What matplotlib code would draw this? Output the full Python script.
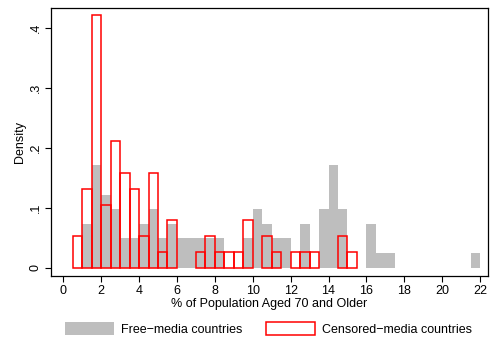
import numpy as np
import matplotlib
matplotlib.use("Agg")
import matplotlib.pyplot as plt
from matplotlib.patches import Patch

plt.rcParams['font.family'] = ['Liberation Sans', 'DejaVu Sans']

bin_width = 0.5

# free-media countries: left bin edge -> density
free_left = [1.0, 1.5, 2.0, 2.5, 3.0, 3.5, 4.0, 4.5, 5.0, 5.5, 6.0, 6.5, 7.0, 7.5,
             8.0, 9.5, 10.0, 10.5, 11.0, 11.5, 12.5, 13.5, 14.0, 14.5, 16.0,
             16.5, 17.0, 21.5]
free_density = [0.073, 0.171, 0.122, 0.098, 0.049, 0.049, 0.073, 0.098, 0.049,
                0.073, 0.049, 0.049, 0.049, 0.049, 0.049, 0.049, 0.098, 0.073,
                0.049, 0.049, 0.073, 0.098, 0.171, 0.098, 0.073, 0.024, 0.024,
                0.024]

# censored-media countries
cens_left = [0.5, 1.0, 1.5, 2.0, 2.5, 3.0, 3.5, 4.0, 4.5, 5.0, 5.5, 7.0, 7.5,
             8.0, 8.5, 9.0, 9.5, 10.5, 11.0, 12.0, 12.5, 13.0, 14.5, 15.0]
cens_density = [0.053, 0.132, 0.421, 0.105, 0.211, 0.158, 0.132, 0.053, 0.158,
                0.026, 0.079, 0.026, 0.053, 0.026, 0.026, 0.026, 0.079, 0.053,
                0.026, 0.026, 0.026, 0.026, 0.053, 0.026]

x_ticks = list(range(0, 23, 2))
y_ticks = [0, 0.1, 0.2, 0.3, 0.4]
y_labels = ['0', '.1', '.2', '.3', '.4']

gray = '#bebebe'
fs = 9

fig = plt.figure(figsize=(4.9, 3.41), dpi=100)
ax = fig.add_axes([0.104, 0.191, 0.892, 0.786])

ax.bar(free_left, free_density, width=bin_width, align='edge',
       color=gray, linewidth=0)
ax.bar(cens_left, cens_density, width=bin_width, align='edge',
       facecolor='none', edgecolor='red', linewidth=1.1)

ax.set_xlim(-0.65, 22.42)
ax.set_ylim(-0.0133, 0.4333)
ax.set_xticks(x_ticks)
ax.set_yticks(y_ticks)
ax.set_yticklabels(y_labels, rotation=90, va='center')
ax.tick_params(direction='out', length=4, width=0.8, labelsize=fs, pad=2.5)
for s in ax.spines.values():
    s.set_linewidth(0.9)

ax.set_xlabel('% of Population Aged 70 and Older', fontsize=fs, labelpad=1)
ax.set_ylabel('Density', fontsize=fs, labelpad=3)

handles = [Patch(facecolor=gray, edgecolor='none'),
           Patch(facecolor='white', edgecolor='red', linewidth=1.1)]
fig.legend(handles, ['Free\u2212media countries', 'Censored\u2212media countries'],
           loc='center', bbox_to_anchor=(0.548, 0.035), ncol=2, frameon=False,
           fontsize=fs, handlelength=3.9, handleheight=1.15,
           columnspacing=1.9, handletextpad=0.55)

fig.savefig('out.png', dpi=100, facecolor='white')
